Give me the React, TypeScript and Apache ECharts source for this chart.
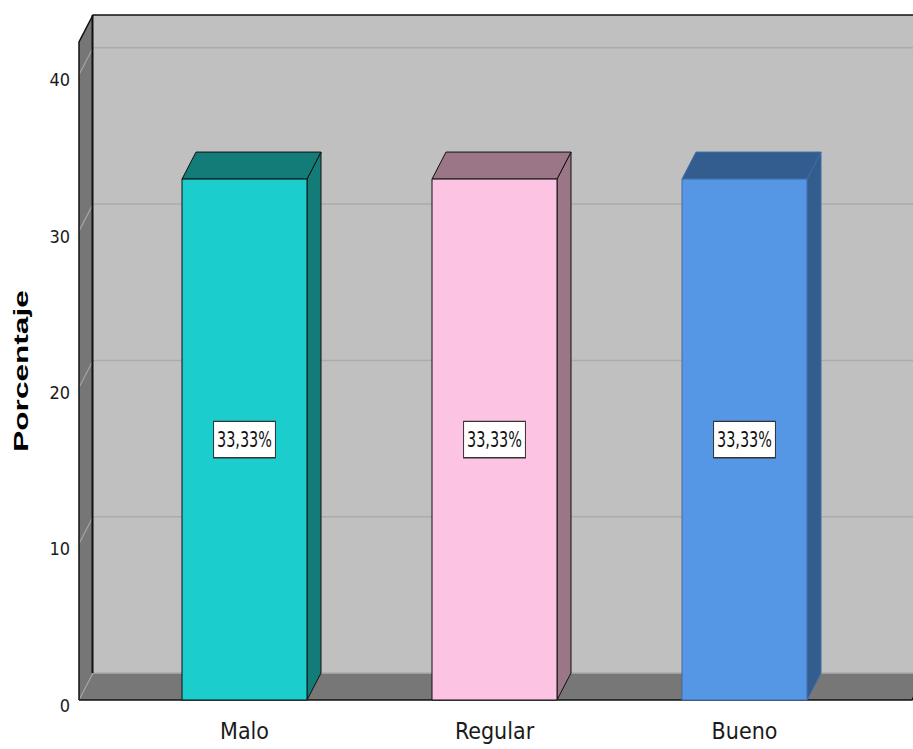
import React, { useEffect, useRef } from "react";
import * as echarts from "echarts";

const categories = ["Malo", "Regular", "Bueno"];
const percentages = [33.33, 33.33, 33.33];
const frontColors = ["#1BCDCD", "#FDC3E3", "#5596E5"];
const sideColors = ["#137C78", "#9B7686", "#335C8F"];
const edgeColors = ["#111111", "#111111", "#3E6CA6"];
const gridValues = [0, 10, 20, 30, 40];
const yMax = 42.1;

const FONT_NARROW = '"Liberation Sans Narrow", "DejaVu Sans Condensed", "Liberation Sans", Arial, sans-serif';
const DX = 14;
const DY = 27;
const AXIS_OFFSET = 40.5;
const RIGHT_EXT = 42.5;

export default function App() {
  const ref = useRef<HTMLDivElement>(null);
  useEffect(() => {
    if (!ref.current) return;
    const chart = echarts.init(ref.current, null, { renderer: "svg" });

    const frameEdges = (params: any) => {
      const cs = params.coordSys;
      return { xl: cs.x - AXIS_OFFSET, xr: cs.x + cs.width + RIGHT_EXT };
    };

    const option: any = {
      animation: false,
      backgroundColor: "#ffffff",
      grid: { left: 119.5, right: 43.5, top: 42, bottom: 49 },
      xAxis: {
        type: "category",
        data: categories,
        axisLine: { show: false },
        axisTick: { show: false },
        axisLabel: { color: "#1a1a1a", fontFamily: FONT_NARROW, fontSize: 23, margin: 19 },
      },
      yAxis: {
        type: "value",
        min: 0,
        max: yMax,
        interval: 10,
        offset: AXIS_OFFSET,
        axisLine: { show: false },
        axisTick: { show: false },
        splitLine: { show: false },
        axisLabel: {
          color: "#1a1a1a",
          fontFamily: FONT_NARROW,
          fontSize: 18,
          margin: 9,
          showMaxLabel: false,
          verticalAlign: "top",
          lineHeight: 10,
        },
      },
      graphic: [
        {
          type: "text",
          x: 21,
          y: 371,
          rotation: Math.PI / 2,
          scaleX: 1.58,
          style: {
            text: "Porcentaje",
            fontFamily: '"Liberation Sans", Arial, sans-serif',
            fontWeight: "bold",
            fontSize: 20,
            fill: "#000000",
            align: "center",
            verticalAlign: "middle",
          },
        },
      ],
      series: [
        {
          type: "custom",
          z: 1,
          silent: true,
          data: [[0, 0]],
          renderItem: (params: any, api: any) => {
            const { xl, xr } = frameEdges(params);
            const y0 = api.coord([0, 0])[1];
            const yt = api.coord([0, yMax])[1];
            return {
              type: "group",
              children: [
                { type: "rect", shape: { x: xl + DX, y: yt - DY, width: xr - xl, height: y0 - yt }, style: { fill: "#C0C0C0" } },
                { type: "polygon", shape: { points: [[xl, yt], [xl + DX, yt - DY], [xl + DX, y0 - DY], [xl, y0]] }, style: { fill: "#767676" } },
                { type: "polygon", shape: { points: [[xl, y0], [xl + DX, y0 - DY], [xr + DX, y0 - DY], [xr, y0]] }, style: { fill: "#777777" } },
              ],
            };
          },
        },
        {
          type: "custom",
          z: 2,
          silent: true,
          data: gridValues.map((v) => [0, v]),
          renderItem: (params: any, api: any) => {
            const { xl, xr } = frameEdges(params);
            const y = api.coord([0, api.value(1)])[1];
            return {
              type: "group",
              children: [
                { type: "line", shape: { x1: xl + DX, y1: y - DY, x2: xr + DX, y2: y - DY }, style: { stroke: "#ABABAB", lineWidth: 1.5 } },
                { type: "line", shape: { x1: xl, y1: y, x2: xl + DX, y2: y - DY }, style: { stroke: "#A4A4A4", lineWidth: 1.2 } },
              ],
            };
          },
        },
        {
          type: "custom",
          z: 3,
          silent: true,
          data: [[0, 0]],
          renderItem: (params: any, api: any) => {
            const { xl, xr } = frameEdges(params);
            const y0 = api.coord([0, 0])[1];
            const yt = api.coord([0, yMax])[1];
            const dark = "#111111";
            return {
              type: "group",
              children: [
                { type: "polyline", shape: { points: [[xl, y0], [xl, yt], [xl + DX, yt - DY], [xr + DX + 2, yt - DY]] }, style: { stroke: dark, lineWidth: 1.5, fill: null } },
                { type: "line", shape: { x1: xl + DX - 0.5, y1: yt - DY, x2: xl + DX - 0.5, y2: y0 - DY }, style: { stroke: dark, lineWidth: 2 } },
                { type: "polyline", shape: { points: [[xl, y0], [xr, y0], [xr + DX, y0 - DY]] }, style: { stroke: dark, lineWidth: 1.5, fill: null } },
              ],
            };
          },
        },
        {
          type: "custom",
          z: 4,
          silent: true,
          data: percentages.map((v, i) => [i, v]),
          renderItem: (params: any, api: any) => {
            const i = api.value(0);
            const v = api.value(1);
            const top = api.coord([i, v]);
            const base = api.coord([i, 0]);
            const bw = api.size([1, 0])[0] * 0.5;
            const x0 = top[0] - bw / 2;
            const x1 = top[0] + bw / 2;
            const yt = top[1];
            const yb = base[1];
            const edge = edgeColors[i];
            const labelY = api.coord([i, v / 2])[1];
            return {
              type: "group",
              children: [
                { type: "polygon", shape: { points: [[x1, yt], [x1 + DX, yt - DY], [x1 + DX, yb - DY], [x1, yb]] }, style: { fill: sideColors[i], stroke: edge, lineWidth: 1 } },
                { type: "polygon", shape: { points: [[x0, yt], [x0 + DX, yt - DY], [x1 + DX, yt - DY], [x1, yt]] }, style: { fill: sideColors[i], stroke: edge, lineWidth: 1 } },
                { type: "rect", shape: { x: x0, y: yt, width: x1 - x0, height: yb - yt }, style: { fill: frontColors[i], stroke: edge, lineWidth: 1 } },
                {
                  type: "text",
                  x: top[0],
                  y: labelY,
                  scaleY: 1.3,
                  style: {
                    text: v.toFixed(2).replace(".", ",") + "%",
                    fontFamily: FONT_NARROW,
                    fontSize: 16,
                    fill: "#111111",
                    align: "center",
                    verticalAlign: "middle",
                    backgroundColor: "#ffffff",
                    borderColor: "#333333",
                    borderWidth: 1,
                    padding: [6, 3, 5, 3],
                  },
                },
              ],
            };
          },
        },
      ],
    };

    chart.setOption(option);
    return () => chart.dispose();
  }, []);

  return <div ref={ref} style={{ width: 913, height: 749, position: "absolute", left: 0, top: 0 }} />;
}
